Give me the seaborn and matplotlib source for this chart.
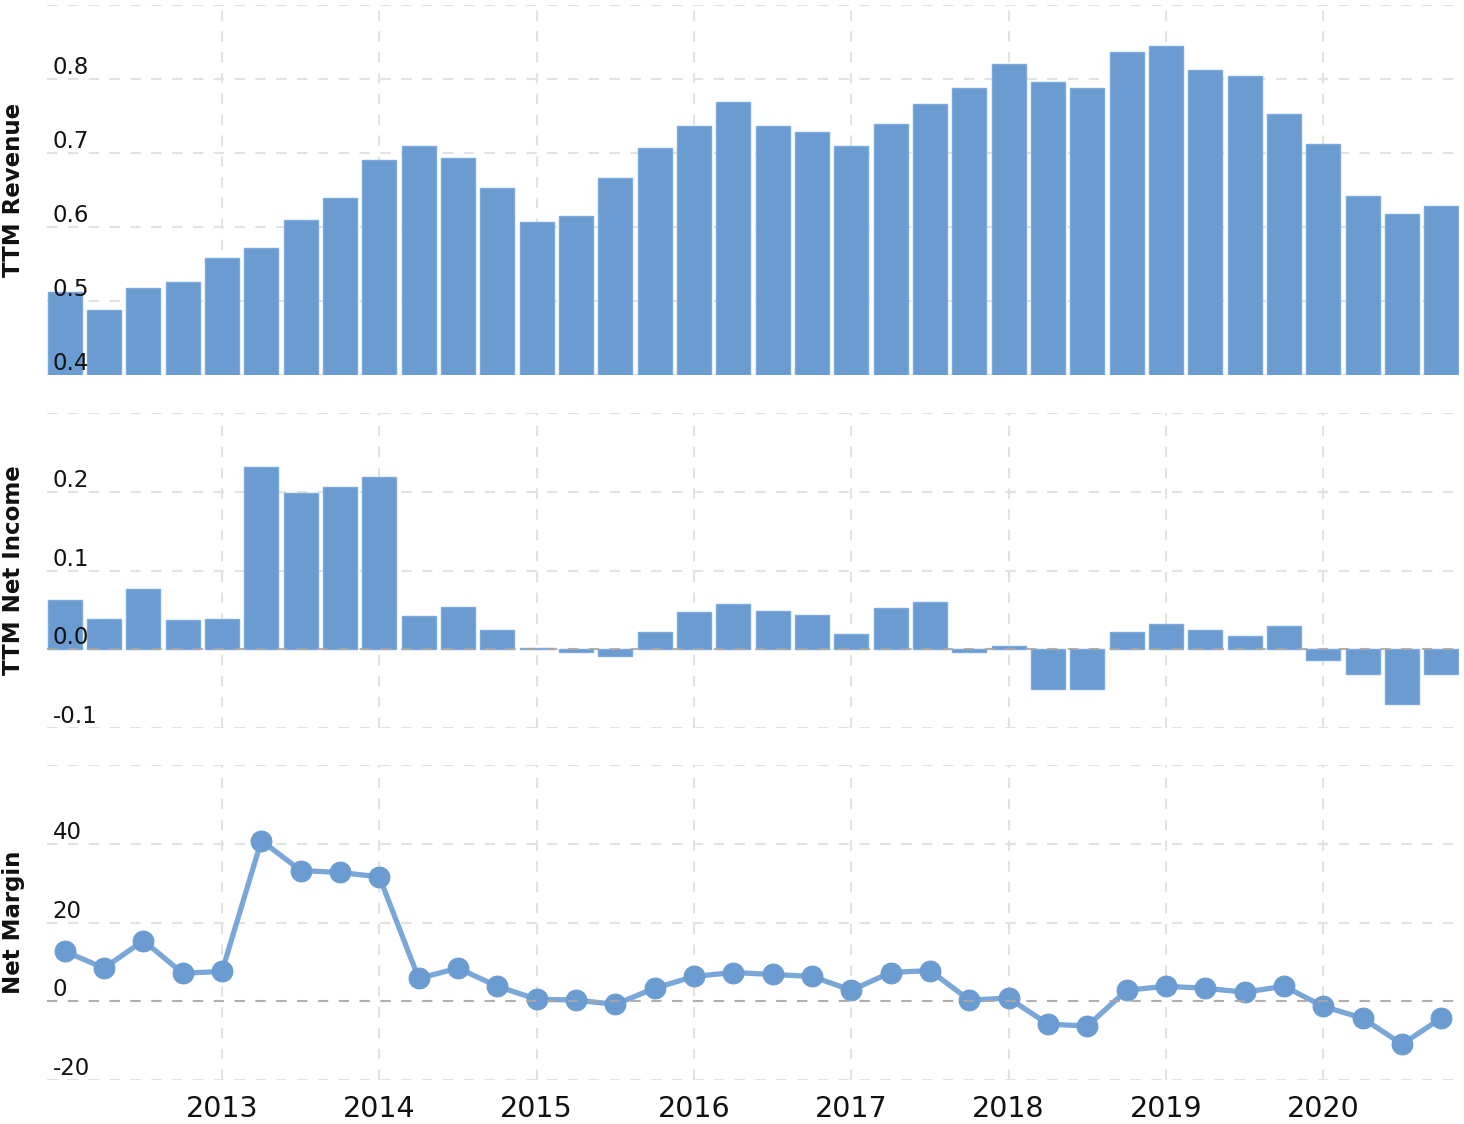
import matplotlib
matplotlib.use("Agg")
import matplotlib.pyplot as plt
import seaborn as sns
import numpy as np
import pandas as pd

# ---- data (quarterly, 2011-12 .. 2020-09) ----
quarters = pd.period_range("2011Q4", "2020Q3", freq="Q").astype(str).tolist()
revenue = [0.512, 0.488, 0.518, 0.526, 0.558, 0.572, 0.609, 0.639, 0.691, 0.709,
           0.693, 0.653, 0.607, 0.615, 0.666, 0.707, 0.736, 0.769, 0.736, 0.728,
           0.709, 0.739, 0.766, 0.788, 0.820, 0.796, 0.788, 0.836, 0.845, 0.812,
           0.804, 0.753, 0.712, 0.642, 0.618, 0.628]
net_income = [0.062, 0.039, 0.077, 0.037, 0.039, 0.232, 0.199, 0.206, 0.219, 0.042,
              0.054, 0.024, 0.001, -0.003, -0.0085, 0.0215, 0.047, 0.057, 0.049, 0.044,
              0.019, 0.052, 0.0595, -0.003, 0.004, -0.051, -0.051, 0.0215, 0.032, 0.024,
              0.0165, 0.029, -0.0135, -0.031, -0.069, -0.031]
net_margin = [12.7, 8.4, 15.4, 7.1, 7.6, 40.8, 33.2, 32.7, 31.6, 5.8,
              8.4, 3.8, 0.5, 0.3, -0.8, 3.3, 6.3, 7.3, 6.8, 6.3,
              2.8, 7.3, 7.8, 0.3, 0.8, -5.8, -6.3, 2.8, 3.8, 3.3,
              2.3, 3.8, -1.3, -4.3, -10.9, -4.3]
year_labels = ["2013", "2014", "2015", "2016", "2017", "2018", "2019", "2020"]
rev_ticks = [0.4, 0.5, 0.6, 0.7, 0.8]
ni_ticks = [-0.1, 0.0, 0.1, 0.2]
nm_ticks = [-20, 0, 20, 40]

df = pd.DataFrame({"pos": np.arange(len(quarters)), "quarter": quarters,
                   "revenue": revenue, "net_income": net_income, "net_margin": net_margin})
year_pos = [df.index[df.quarter == f"{int(y)-1}Q4"][0] for y in year_labels]

BLUE = "#6a9bd1"
GRID = "#e2e2e2"
DASH = (0, (5, 5))

sns.set_theme(style="white")
plt.rcParams["font.family"] = ["DejaVu Sans"]

fig = plt.figure(figsize=(14.64, 11.24), dpi=100)
L, W = 47 / 1464, (1459 - 47) / 1464
def rect(top, bot):
    return [L, 1 - bot / 1124, W, (bot - top) / 1124]

ax1 = fig.add_axes(rect(5, 375))
ax2 = fig.add_axes(rect(413, 728))
ax3 = fig.add_axes(rect(765, 1080))

sns.barplot(data=df, x="pos", y="revenue", ax=ax1, color=BLUE, saturation=1,
            width=0.86, edgecolor="#7eaadb", linewidth=1)
sns.barplot(data=df, x="pos", y="net_income", ax=ax2, color=BLUE, saturation=1,
            width=0.86, edgecolor="#7eaadb", linewidth=1)
sns.lineplot(data=df, x="pos", y="net_margin", ax=ax3, color="#7aa6d8", linewidth=3.8,
             marker="o", markersize=15, markerfacecolor=BLUE, markeredgecolor=BLUE, zorder=2)

specs = [(ax1, (0.4, 0.9), rev_ticks, [0.4, 0.5, 0.6, 0.7, 0.8, 0.9], "TTM Revenue", None),
         (ax2, (-0.1, 0.3), ni_ticks, [-0.1, 0.1, 0.2, 0.3], "TTM Net Income", 0.0),
         (ax3, (-20, 60), nm_ticks, [-20, 20, 40, 60], "Net Margin", 0)]

for ax, ylim, ticks, gridvals, label, zero in specs:
    ax.set_xlim(-0.45, len(quarters) - 0.55)
    ax.set_ylim(*ylim)
    ax.set_axisbelow(False)
    for g in gridvals:
        ax.axhline(g, color=GRID, lw=1.5, ls=DASH, zorder=0)
    for p in year_pos:
        ax.axvline(p, color=GRID, lw=1.5, ls=DASH, zorder=0)
    if zero is not None:
        ax.axhline(zero, color="#a8a8a8", lw=1.5, ls=DASH, zorder=2.2, alpha=0.9)
    ax.set_yticks(ticks)
    if ax is ax3:
        ax.set_yticklabels([str(int(t)) for t in ticks])
    else:
        ax.set_yticklabels([f"{t:.1f}" for t in ticks])
    ax.tick_params(axis="y", length=0, pad=-4, labelsize=16.5, labelcolor="#111111")
    for t in ax.get_yticklabels():
        t.set_horizontalalignment("left")
        t.set_verticalalignment("bottom")
    ax.set_ylabel(label, fontsize=16.5, fontweight="bold", color="#111111")
    ax.yaxis.set_label_coords(-0.0155, 0.5)
    ax.set_xlabel("")
    for s in ax.spines.values():
        s.set_visible(False)
    ax.grid(False)
    ax.set_xticks(year_pos)
    if ax is ax3:
        ax.set_xticklabels(year_labels)
        ax.tick_params(axis="x", length=0, pad=11, labelsize=20.5, labelcolor="#111111")
    else:
        ax.set_xticklabels([])
        ax.tick_params(axis="x", length=0)

fig.savefig("out.png", dpi=100, facecolor="white")
